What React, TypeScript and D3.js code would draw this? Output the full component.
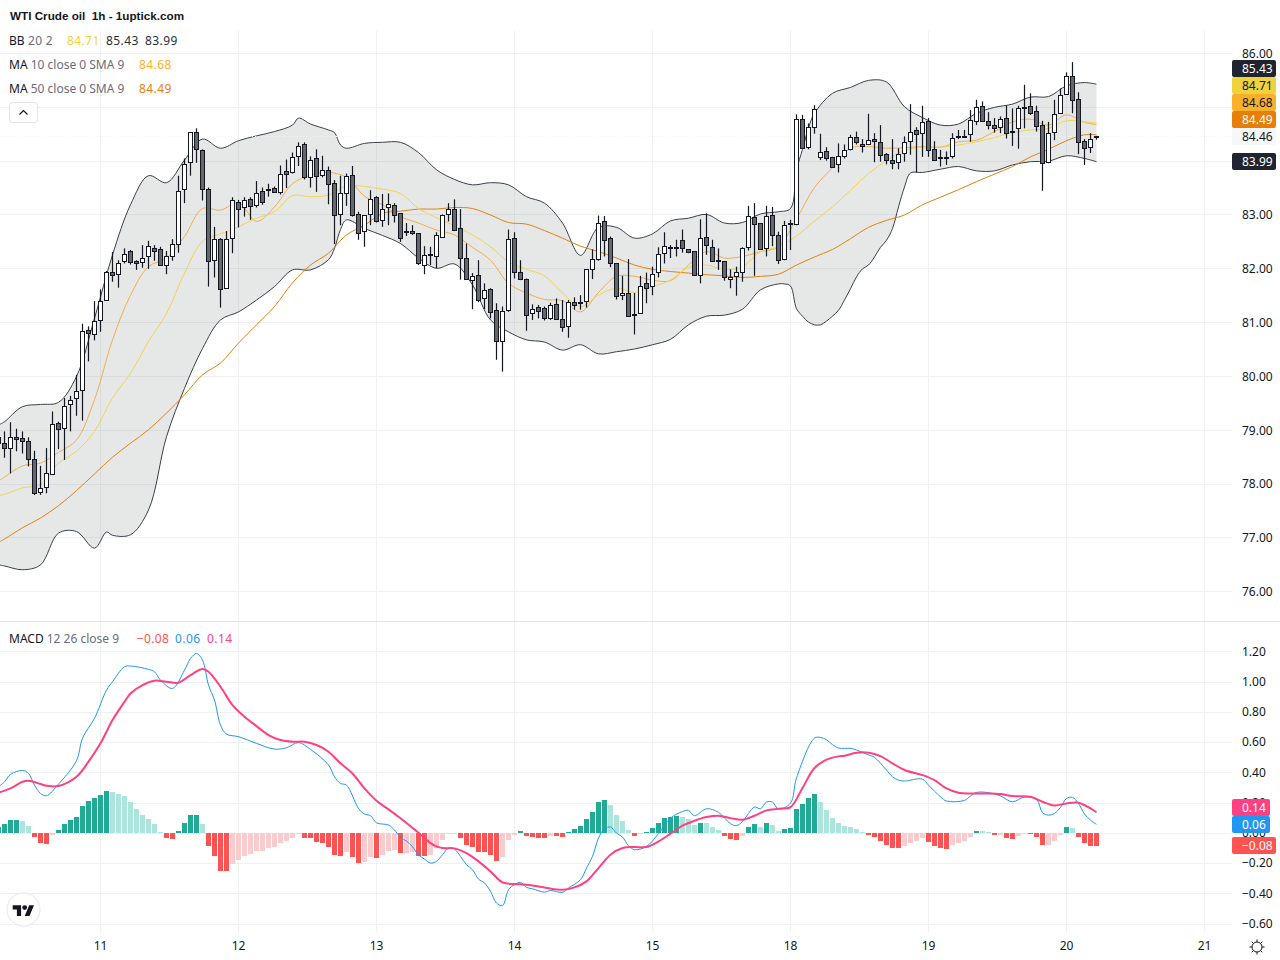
import React from "react";
import * as d3 from "d3";

const W = 1280, H = 960;
const FONT = "'Noto Sans', sans-serif";

// Hourly candles; first element is the bar cut by the left edge (bar -1)
const highs = [78.95,78.98,79.15,79.03,78.98,78.87,78.62,78.34,78.67,79.35,79.16,79.60,79.64,80.03,80.98,80.93,81.40,81.62,81.96,82.31,82.16,82.38,82.35,82.16,82.44,82.52,82.44,82.41,82.33,82.55,83.73,84.05,84.54,84.61,84.22,83.51,82.78,82.57,82.70,83.33,83.28,83.33,83.33,83.63,83.51,83.58,83.53,83.92,84.03,84.16,84.35,84.35,84.09,84.22,84.10,83.90,83.65,83.73,83.77,83.91,83.06,83.00,83.46,83.35,83.39,83.40,83.22,83.03,82.85,82.81,82.66,82.42,82.41,82.68,83.01,83.22,83.29,83.11,82.47,81.92,82.16,81.73,81.64,81.36,81.30,82.73,82.68,82.16,81.82,81.34,81.33,81.30,81.37,81.45,81.42,81.42,81.47,81.51,81.99,82.36,82.99,82.98,82.60,82.10,81.87,82.18,81.55,81.87,81.93,82.04,82.40,82.68,82.44,82.54,82.73,82.36,82.33,82.92,83.03,82.54,82.38,82.14,81.99,82.04,82.40,83.17,83.22,82.85,83.17,83.15,82.69,82.89,82.91,84.87,84.86,84.70,85.04,84.51,84.26,84.08,84.33,84.31,84.49,84.55,84.41,84.88,84.52,84.67,84.15,84.41,84.24,84.46,85.06,84.63,85.03,84.80,84.37,84.21,84.18,84.52,84.58,84.58,84.95,85.14,85.11,84.91,84.80,84.83,85.03,84.98,85.03,85.42,85.26,85.03,84.75,84.73,85.14,85.35,85.65,85.84,85.28,84.41,84.52,84.47];
const bodyTops = [78.87,78.76,78.88,78.87,78.85,78.80,78.46,77.92,78.20,79.11,79.13,79.46,79.56,79.73,80.84,80.86,81.03,81.41,81.94,81.95,82.11,82.28,82.34,82.14,82.20,82.42,82.38,82.36,82.23,82.47,83.44,83.94,84.54,84.54,84.20,83.48,82.55,82.55,82.55,83.27,83.25,83.27,83.29,83.40,83.44,83.49,83.50,83.77,83.81,84.07,84.29,84.31,84.02,84.05,83.83,83.83,83.59,83.40,83.72,83.74,83.01,83.00,83.29,83.33,83.12,83.20,83.18,83.03,82.70,82.70,82.66,82.25,82.27,82.62,83.00,83.12,83.11,82.75,82.21,81.86,81.88,81.60,81.62,81.23,81.21,82.55,82.57,81.95,81.82,81.25,81.29,81.27,81.32,81.34,81.06,81.38,81.38,81.38,81.99,82.18,82.86,82.88,82.57,82.10,81.55,81.56,81.16,81.69,81.73,81.90,82.27,82.42,82.41,82.41,82.53,82.36,82.33,82.57,82.60,82.40,82.17,82.14,81.84,81.94,82.38,82.98,82.96,82.85,82.98,83.00,82.62,82.81,82.86,84.78,84.78,84.64,84.96,84.17,84.18,84.08,84.09,84.20,84.44,84.44,84.31,84.39,84.41,84.35,84.13,84.03,84.13,84.35,84.54,84.57,84.72,84.74,84.22,84.07,84.08,84.43,84.46,84.47,84.76,85.00,85.02,84.74,84.68,84.78,84.80,84.56,84.98,85.00,85.02,84.93,84.68,84.52,84.87,85.22,85.58,85.59,85.15,84.37,84.41,84.46];
const bodyBottoms = [78.76,78.67,78.67,78.83,78.80,78.46,77.83,77.85,77.94,78.19,79.02,79.04,79.48,79.60,79.75,80.80,80.78,81.04,81.43,81.88,81.90,82.14,82.12,82.10,82.12,82.23,82.34,82.08,82.08,82.23,82.47,83.48,83.98,84.22,83.48,82.14,82.16,81.62,81.64,82.57,83.12,83.14,83.16,83.18,83.24,83.46,83.43,83.43,83.77,83.79,84.09,83.70,83.70,83.72,83.74,83.57,83.00,83.01,83.40,83.00,82.66,82.70,83.01,82.88,82.90,83.14,83.00,82.57,82.68,82.67,82.10,82.08,82.25,82.23,82.60,83.01,82.73,82.20,81.82,81.80,81.43,81.45,81.19,80.65,80.65,81.23,81.94,81.81,81.14,81.17,81.21,81.08,81.08,81.06,80.91,80.93,81.32,81.36,81.40,81.99,82.18,82.53,82.10,81.49,81.51,81.12,81.15,81.17,81.64,81.68,81.94,82.29,82.39,82.39,82.38,82.31,81.88,81.88,82.44,82.14,82.16,81.84,81.82,81.86,81.95,82.40,82.83,82.36,82.38,82.62,82.16,82.18,82.85,82.83,84.24,84.26,84.64,84.08,84.05,83.90,83.94,84.09,84.22,84.35,84.28,84.31,84.37,84.11,84.03,83.96,83.98,84.15,84.37,84.50,84.52,84.20,84.03,84.06,84.07,84.09,84.44,84.46,84.50,84.75,84.74,84.68,84.61,84.63,84.52,84.55,84.61,84.99,84.89,84.65,83.96,83.98,84.54,84.89,85.24,85.13,84.35,84.24,84.26,84.44];
const lows = [78.57,78.49,78.20,78.61,78.57,78.33,77.80,77.80,77.83,78.17,78.65,78.45,78.98,79.27,79.18,80.28,80.67,80.83,81.42,81.76,81.65,82.10,82.08,81.98,82.02,82.00,82.15,82.08,81.90,82.15,82.30,83.22,83.73,83.97,83.27,81.67,81.84,81.28,81.64,82.29,82.77,82.97,82.91,83.14,83.19,83.34,83.41,83.38,83.50,83.77,83.91,83.66,83.51,83.43,83.70,83.20,82.46,82.81,83.17,82.97,82.54,82.41,82.81,82.86,82.78,82.81,82.86,82.50,82.61,82.63,82.07,81.90,82.07,82.01,82.59,82.88,82.71,81.80,81.80,81.25,81.38,81.25,81.08,80.31,80.09,81.20,81.82,81.79,80.85,81.05,81.08,81.04,81.05,81.05,80.83,80.72,81.24,81.24,81.28,81.81,82.15,82.23,82.03,81.43,81.42,81.12,80.78,81.17,81.36,81.51,81.84,82.10,82.20,82.23,82.30,82.29,81.87,81.73,82.26,82.13,81.98,81.78,81.64,81.50,81.76,82.34,81.87,82.35,82.23,82.42,82.09,82.16,82.35,82.81,84.23,84.22,84.51,84.02,84.01,83.90,83.79,84.05,84.20,84.31,84.16,84.31,83.98,83.99,83.94,83.85,83.85,83.99,84.12,83.79,84.08,84.08,84.02,83.90,83.93,84.05,84.41,84.43,84.36,84.67,84.73,84.59,84.53,84.52,84.42,84.28,84.23,84.61,84.86,84.55,83.45,83.96,84.39,84.88,85.23,84.89,84.13,83.93,84.15,84.40];
const fallingBars = new Set([-1,0,2,3,4,5,9,14,18,21,22,25,26,32,33,34,36,39,41,43,45,47,50,52,54,55,58,59,62,65,66,68,69,75,76,77,79,81,82,85,86,87,89,90,92,93,95,100,101,102,104,107,113,114,115,117,118,120,125,126,128,129,133,137,138,142,143,145,146,147,148,152,154,155,163,164,165,167,171,172,173,178,179,180]);

// Bollinger bands, read at the bars where their shape changes
const upperBars = [-1, ...d3.range(0, 49, 3), 49, 51, 54, 55, 56, 57, ...d3.range(60, 130, 3), 131, 132, 133, 134, 135, ...d3.range(138, 181, 3), 182];
const bbUpper = [79.10,79.16,79.44,79.48,79.52,80.00,81.08,82.26,83.19,83.73,83.60,84.02,84.41,84.24,84.38,84.47,84.55,84.67,84.80,84.69,84.58,84.53,84.30,84.24,84.33,84.35,84.35,84.16,83.84,83.66,83.56,83.60,83.56,83.34,83.22,82.85,82.25,82.77,82.77,82.57,82.65,82.89,82.94,83.01,82.85,82.86,83.02,83.06,83.12,83.83,84.22,84.62,84.89,85.26,85.37,85.50,85.47,85.01,84.81,84.67,84.69,84.89,85.00,85.06,85.19,85.20,85.40,85.46,85.43];
const lowerBars = [-1, 0, 3, 6, 9, 12, 15, 17, ...d3.range(18, 55, 3), 55, 56, 57, ...d3.range(60, 130, 3), ...d3.range(130, 152), ...d3.range(153, 181, 3), 182];
const bbLower = [76.50,76.48,76.41,76.50,77.09,77.12,76.81,77.11,77.05,77.06,77.52,78.88,79.78,80.52,81.05,81.20,81.42,81.67,81.98,81.98,82.17,82.38,82.73,82.91,82.75,82.62,82.47,82.20,82.01,82.09,81.70,81.05,80.83,80.68,80.64,80.49,80.59,80.42,80.46,80.51,80.59,80.69,80.96,81.12,81.14,81.25,81.61,81.72,81.72,81.68,81.26,81.12,81.01,80.96,80.96,81.03,81.12,81.23,81.42,81.63,81.85,82.00,82.07,82.22,82.40,82.53,82.75,83.15,83.52,83.78,83.79,83.85,83.90,83.82,83.82,83.93,83.99,84.00,84.10,84.05,83.99];

// Moving averages read at every third bar
const lineBars = [-1, ...d3.range(0, 181, 3), 182];
const bbBasis = [77.79,77.81,77.93,77.99,78.39,78.61,78.98,79.60,80.06,80.65,81.17,81.92,82.51,82.65,82.78,82.94,83.06,83.36,83.34,83.37,83.54,83.53,83.48,83.40,83.12,82.95,82.80,82.63,82.41,82.13,81.99,81.87,81.55,81.30,81.51,81.64,81.56,81.67,81.79,82.03,82.07,81.99,82.04,82.32,82.41,82.61,82.89,83.15,83.46,83.77,84.01,84.20,84.26,84.26,84.30,84.36,84.44,84.53,84.58,84.61,84.75,84.73,84.71];
const ma10 = [78.06,78.13,78.34,78.39,78.59,78.82,79.57,80.68,81.51,82.04,82.20,82.60,83.12,83.09,83.23,82.88,83.15,83.58,83.74,83.79,83.70,83.35,83.19,82.97,82.85,82.72,82.63,82.40,82.16,81.73,81.55,81.43,81.41,81.20,81.56,81.86,81.86,81.79,81.78,82.07,82.32,82.20,82.23,82.32,82.41,82.93,83.51,83.88,84.24,84.27,84.24,84.25,84.27,84.26,84.36,84.39,84.55,84.73,84.78,84.67,84.86,84.72,84.68];
const ma50 = [76.92,76.98,77.19,77.37,77.60,77.88,78.19,78.50,78.76,79.01,79.32,79.66,80.03,80.25,80.62,80.96,81.30,81.74,82.07,82.29,82.63,82.81,83.03,83.07,83.11,83.11,83.14,83.12,83.00,82.86,82.83,82.71,82.57,82.42,82.32,82.20,82.07,81.99,81.95,81.92,81.89,81.87,81.84,81.86,81.90,82.07,82.22,82.36,82.56,82.77,82.90,83.00,83.19,83.33,83.47,83.62,83.76,83.90,84.08,84.22,84.38,84.49,84.49];

// MACD panel
const histValues = [0.044,0.062,0.088,0.088,0.081,0.048,-0.022,-0.062,-0.07,-0.011,0.022,0.062,0.086,0.108,0.18,0.214,0.233,0.251,0.28,0.273,0.26,0.247,0.207,0.161,0.121,0.095,0.062,0.009,-0.031,-0.037,0.015,0.068,0.121,0.121,0.062,-0.084,-0.15,-0.249,-0.249,-0.203,-0.176,-0.15,-0.137,-0.117,-0.117,-0.097,-0.09,-0.064,-0.05,-0.031,-0.004,-0.031,-0.031,-0.057,-0.064,-0.09,-0.143,-0.15,-0.123,-0.156,-0.196,-0.189,-0.156,-0.163,-0.143,-0.117,-0.11,-0.13,-0.13,-0.123,-0.15,-0.148,-0.141,-0.097,-0.046,-0.004,-0.004,-0.029,-0.075,-0.088,-0.121,-0.121,-0.141,-0.181,-0.154,-0.042,-0.009,0.018,-0.015,-0.022,-0.029,-0.029,-0.015,-0.015,-0.022,0.011,0.031,0.051,0.097,0.143,0.209,0.222,0.189,0.123,0.084,0.024,-0.015,-0.004,0.011,0.037,0.07,0.104,0.11,0.117,0.11,0.097,0.057,0.07,0.07,0.044,0.024,-0.015,-0.035,-0.042,-0.015,0.044,0.064,0.044,0.07,0.057,0.018,0.031,0.037,0.163,0.196,0.236,0.262,0.209,0.156,0.104,0.07,0.048,0.042,0.029,0.009,-0.011,-0.024,-0.051,-0.077,-0.097,-0.097,-0.084,-0.064,-0.051,-0.031,-0.057,-0.084,-0.097,-0.104,-0.077,-0.064,-0.051,-0.024,0.015,0.015,0.009,-0.011,-0.011,-0.031,-0.037,-0.018,-0.004,-0.004,-0.024,-0.077,-0.077,-0.051,-0.011,0.042,0.035,-0.024,-0.064,-0.084,-0.08];
const histTones = "G"+"GGGLLRRRP"+"GGGGGGGGG"+"LLLLLLLLL"+"RR"+"GGGG"+"L"+"RRRR"+"PPPPPPPPPPPP"+"RRRRRRR"+"P"+"RR"+"PP"+"R"+"PPP"+"R"+"PP"+"RR"+"PPPPP"+"RRRRRRR"+"PPP"+"G"+"RRRR"+"P"+"RR"+"GGGGGGG"+"LLLL"+"R"+"P"+"GGGGGG"+"LLL"+"G"+"LLL"+"RRR"+"P"+"GG"+"L"+"G"+"LL"+"GGGGGG"+"LLLLLLLL"+"RRRRRR"+"PPPP"+"RRRR"+"PPPP"+"G"+"LL"+"R"+"P"+"RR"+"PP"+"RRR"+"PPP"+"G"+"L"+"RRRR";
const macdBars = [-1,0,1,3,4,5,6,7,9,12,13,15,17,18,20,21,24,25,26,28,30,31,32,33,34,35,36,37,39,42,45,47,49,51,54,55,56,57,59,60,61,62,64,65,66,67,68,69,70,71,72,73,74,75,76,77,78,79,80,81,82,83,84,85,86,87,88,90,91,93,94,96,97,98,99,100,101,102,103,104,105,107,109,111,113,114,115,117,119,121,122,123,125,126,127,128,129,131,132,135,136,137,138,139,140,141,142,144,145,147,148,149,150,153,154,156,157,160,161,162,164,166,168,170,172,173,174,175,176,177,178,179,180,181,182];
const macdValues = [0.308,0.341,0.39,0.416,0.396,0.319,0.264,0.249,0.326,0.48,0.63,0.76,0.947,1.002,1.101,1.106,1.084,1.068,1.013,0.958,1.079,1.156,1.189,1.145,0.98,0.881,0.716,0.656,0.639,0.595,0.557,0.566,0.6,0.555,0.452,0.374,0.33,0.319,0.165,0.128,0.117,0.07,0.055,0.022,-0.026,-0.051,-0.088,-0.143,-0.17,-0.196,-0.185,-0.141,-0.097,-0.104,-0.152,-0.207,-0.24,-0.302,-0.328,-0.383,-0.46,-0.478,-0.372,-0.339,-0.324,-0.357,-0.366,-0.388,-0.377,-0.39,-0.361,-0.306,-0.229,-0.152,-0.031,0.031,0.042,0.002,-0.024,-0.081,-0.108,-0.086,-0.002,0.101,0.145,0.152,0.117,0.163,0.139,0.064,0.051,0.079,0.174,0.163,0.207,0.207,0.161,0.2,0.366,0.63,0.634,0.619,0.586,0.564,0.562,0.562,0.551,0.518,0.502,0.418,0.374,0.352,0.346,0.359,0.319,0.242,0.214,0.218,0.247,0.271,0.269,0.247,0.209,0.24,0.225,0.137,0.121,0.132,0.172,0.231,0.238,0.198,0.128,0.088,0.06];
const signalBars = [-1,1,3,4,6,7,9,12,14,16,18,20,21,23,25,27,29,31,33,34,36,38,40,42,44,46,48,50,52,54,56,58,60,62,64,66,69,71,72,73,75,77,79,81,83,85,87,90,93,95,97,99,101,103,105,107,109,111,113,115,117,119,121,123,125,127,129,131,133,135,137,139,140,142,144,146,148,150,153,155,157,159,161,164,166,168,171,173,175,177,179,181,182];
const signalValues = [0.269,0.297,0.341,0.348,0.326,0.315,0.313,0.374,0.474,0.595,0.749,0.87,0.925,0.98,1.009,1.002,0.996,1.046,1.086,1.068,0.969,0.848,0.771,0.709,0.65,0.617,0.606,0.606,0.584,0.54,0.463,0.396,0.297,0.216,0.159,0.1,0.004,-0.064,-0.086,-0.097,-0.099,-0.13,-0.185,-0.251,-0.324,-0.335,-0.339,-0.357,-0.373,-0.357,-0.317,-0.229,-0.141,-0.097,-0.09,-0.09,-0.053,-0.002,0.051,0.084,0.108,0.117,0.101,0.09,0.117,0.152,0.163,0.174,0.3,0.432,0.487,0.509,0.513,0.533,0.533,0.511,0.463,0.419,0.385,0.352,0.297,0.269,0.264,0.264,0.26,0.247,0.242,0.209,0.185,0.198,0.203,0.165,0.14];

const priceTicks = [86,85,84,83,82,81,80,79,78,77,76];
const priceLabels = [86,83,82,81,80,79,78,77,76];
const macdTicks = [1.2,1,0.8,0.6,0.4,0.2,0,-0.2,-0.4,-0.6];
const dayLabels = ["11","12","13","14","15","18","19","20","21"];
const dayBars = [16,39,62,85,108,131,154,177,200];

const priceTags = [
  { text: "85.43", fill: "#1f2430", color: "#ffffff", top: 60, h: 17 },
  { text: "84.71", fill: "#efd23c", color: "#131722", top: 77, h: 17 },
  { text: "84.68", fill: "#f9b12b", color: "#131722", top: 94, h: 17 },
  { text: "84.49", fill: "#e67e09", color: "#ffffff", top: 111, h: 17 },
  { text: "84.46", fill: "#f6f7f8", color: "#131722", top: 128, h: 17 },
  { text: "83.99", fill: "#1f2430", color: "#ffffff", top: 153, h: 17 },
];
const macdTags = [
  { text: "0.14", fill: "#ff4081", color: "#ffffff", top: 799, h: 17, w: 38 },
  { text: "0.06", fill: "#2196f3", color: "#ffffff", top: 816, h: 17, w: 38 },
  { text: "−0.08", fill: "#ff5252", color: "#ffffff", top: 837, h: 17, w: 44 },
];
const toneColors: Record<string, string> = { G: "#22ab94", L: "#ace5dc", R: "#ff5252", P: "#fccbcd" };

const x = d3.scaleLinear().domain([0, 182]).range([4.5, 1096.5]);
const yP = d3.scaleLinear().domain([76, 86]).range([591.8, 53.5]);
const yM = d3.scaleLinear().domain([-0.6, 1.2]).range([924.2, 651.8]);
const crisp = (v: number) => Math.round(v) + 0.5;
const fmtM = (v: number) => (v < 0 ? "−" : "") + Math.abs(v).toFixed(2);
const curve = d3.curveCatmullRom.alpha(0.5);

const seriesPath = (bars: number[], vals: number[], y: d3.ScaleLinear<number, number>) =>
  d3.line<number>().curve(curve).x((b) => x(b)).y((_, i) => y(vals[i]))(bars) || "";

const T = ({ x, y, fill = "#131722", size = 12, weight, family = FONT, spacing, children }: any) => (
  <text x={x} y={y} dy="0.35em" fill={fill} fontSize={size} fontWeight={weight} fontFamily={family} letterSpacing={spacing} xmlSpace="preserve" style={{ whiteSpace: "pre" }}>{children}</text>
);

export default function App() {
  const revBars = [...lowerBars].reverse();
  const revVals = [...bbLower].reverse();
  const bandPath = seriesPath(upperBars, bbUpper, yP) + "L" + seriesPath(revBars, revVals, yP).slice(1) + "Z";
  const rays = d3.range(8).map((k) => (k * Math.PI) / 4);
  return (
    <svg width={W} height={H} viewBox={`0 0 ${W} ${H}`} style={{ position: "absolute", left: 0, top: 0, background: "#fff" }}>
      <defs>
        <clipPath id="mainClip"><rect x={0} y={31} width={1232} height={590} /></clipPath>
        <clipPath id="macdClip"><rect x={0} y={622} width={1232} height={310} /></clipPath>
      </defs>
      <rect width={W} height={H} fill="#fff" />
      {/* Grid */}
      <g stroke="#eff0f2" strokeWidth={1} shapeRendering="crispEdges">
        {dayBars.map((b) => (
          <g key={b}>
            <line x1={crisp(x(b) - 0.5)} x2={crisp(x(b) - 0.5)} y1={31} y2={621} />
            <line x1={crisp(x(b) - 0.5)} x2={crisp(x(b) - 0.5)} y1={622} y2={932} />
          </g>
        ))}
        {priceTicks.map((t) => <line key={t} x1={0} x2={1232} y1={crisp(yP(t) - 0.5)} y2={crisp(yP(t) - 0.5)} />)}
        {macdTicks.map((t) => <line key={t} x1={0} x2={1232} y1={crisp(yM(t) - 0.5)} y2={crisp(yM(t) - 0.5)} />)}
      </g>
      <line x1={0} x2={W} y1={621.5} y2={621.5} stroke="#e0e3eb" strokeWidth={1} />

      {/* Price pane */}
      <g clipPath="url(#mainClip)">
        <path d={bandPath} fill="rgba(130,140,140,0.2)" stroke="none" />
        <path d={seriesPath(upperBars, bbUpper, yP)} fill="none" stroke="#3c3f4a" strokeWidth={1} />
        <path d={seriesPath(lowerBars, bbLower, yP)} fill="none" stroke="#3c3f4a" strokeWidth={1} />
        <line x1={0} x2={1232} y1={crisp(yP(84.46) - 0.5)} y2={crisp(yP(84.46) - 0.5)} stroke="#f4f5f7" strokeWidth={1} strokeDasharray="1 2" />
        <path d={seriesPath(lineBars, ma50, yP)} fill="none" stroke="#e0820f" strokeWidth={1} />
        <path d={seriesPath(lineBars, ma10, yP)} fill="none" stroke="#f0ad4c" strokeWidth={1} />
        <path d={seriesPath(lineBars, bbBasis, yP)} fill="none" stroke="#f2d44e" strokeWidth={1} />
        {highs.map((h, j) => {
          const b = j - 1;
          const cx = x(b);
          const top = Math.round(yP(bodyTops[j]));
          const bottom = Math.max(Math.round(yP(bodyBottoms[j])), top + 1);
          const fall = fallingBars.has(b);
          return (
            <g key={b}>
              <line x1={cx} x2={cx} y1={yP(h)} y2={yP(lows[j])} stroke="#131722" strokeWidth={1.2} />
              <rect x={cx - 2} y={top + 0.5} width={4} height={bottom - top} fill={fall ? "#676767" : "#ffffff"} stroke="#131722" strokeWidth={1} />
            </g>
          );
        })}
      </g>

      {/* MACD pane */}
      <g clipPath="url(#macdClip)">
        {histValues.map((v, j) => {
          const b = j - 1;
          const y0 = yM(0), y1 = yM(v);
          return <rect key={b} x={x(b) - 2.5} y={Math.min(y0, y1)} width={5} height={Math.max(Math.abs(y1 - y0), 1)} fill={toneColors[histTones[j]]} shapeRendering="crispEdges" />;
        })}
        <path d={seriesPath(macdBars, macdValues, yM)} fill="none" stroke="#2196f3" strokeWidth={1} />
        <path d={seriesPath(signalBars, signalValues, yM)} fill="none" stroke="#ff4081" strokeWidth={2} />
      </g>

      {/* Axis labels */}
      {priceLabels.map((t) => <T key={t} x={1242} y={yP(t)}>{t.toFixed(2)}</T>)}
      {macdTicks.map((t) => <T key={t} x={1242} y={yM(t) - 0.4}>{fmtM(t)}</T>)}
      {dayLabels.map((d, i) => (
        <text key={d} x={x(dayBars[i])} y={946} dy="0.35em" textAnchor="middle" fontSize={12} fontFamily={FONT} fill="#131722">{d}</text>
      ))}
      {priceTags.map((t) => (
        <g key={t.text}>
          <rect x={1232} y={t.top} width={44} height={t.h} rx={2} fill={t.fill} />
          <T x={1242} y={t.top + t.h / 2} fill={t.color}>{t.text}</T>
        </g>
      ))}
      {macdTags.map((t) => (
        <g key={t.text}>
          <rect x={1232} y={t.top} width={t.w} height={t.h} rx={2} fill={t.fill} />
          <T x={1242} y={t.top + t.h / 2} fill={t.color}>{t.text}</T>
        </g>
      ))}

      {/* Legends */}
      <T x={10} y={16} size={11.7} weight={700} family="'Liberation Sans', sans-serif">{"WTI Crude oil  1h - 1uptick.com"}</T>
      <T x={9} y={41}>BB</T><T x={28} y={41} fill="#6a6d78" spacing={0.3}>20 2</T>
      <T x={67} y={41} fill="#efd23c" spacing={0.4}>84.71</T><T x={106} y={41} fill="#2a2e39" spacing={0.4}>85.43</T><T x={145} y={41} fill="#2a2e39" spacing={0.4}>83.99</T>
      <T x={9} y={65}>MA</T><T x={30.7} y={65} fill="#6a6d78">10 close 0 SMA 9</T><T x={139} y={65} fill="#f9b12b" spacing={0.4}>84.68</T>
      <T x={9} y={89}>MA</T><T x={30.7} y={89} fill="#6a6d78">50 close 0 SMA 9</T><T x={139} y={89} fill="#e67e09" spacing={0.4}>84.49</T>
      <rect x={9.5} y={102.5} width={28} height={20} rx={3} fill="#fff" stroke="#e0e3eb" />
      <path d="M19.5 114.5 L23.5 110.5 L27.5 114.5" fill="none" stroke="#131722" strokeWidth={1.2} />
      <T x={9} y={639}>MACD</T><T x={46.7} y={639} fill="#6a6d78">12 26 close 9</T>
      <T x={136.7} y={639} fill="#ff5252" spacing={0.4}>−0.08</T><T x={175} y={639} fill="#2196f3" spacing={0.4}>0.06</T><T x={207} y={639} fill="#ff4081" spacing={0.4}>0.14</T>

      {/* Logo and settings */}
      <circle cx={23.5} cy={909.5} r={16.5} fill="#fff" stroke="#e6e7ea" strokeWidth={1} />
      <g transform="translate(12.7,902.8) scale(0.6)" fill="#131722">
        <path d="M14 22H7V11H0V4h14v18zM28 22h-8l7.5-18h8L28 22z" />
        <circle cx={20} cy={8} r={4} />
      </g>
      <circle cx={1257} cy={947} r={5} fill="none" stroke="#131722" strokeWidth={1} />
      {rays.map((a, i) => (
        <line key={i} x1={1257 + 5 * Math.cos(a)} y1={947 + 5 * Math.sin(a)} x2={1257 + 7.5 * Math.cos(a)} y2={947 + 7.5 * Math.sin(a)} stroke="#131722" strokeWidth={1} />
      ))}
    </svg>
  );
}
